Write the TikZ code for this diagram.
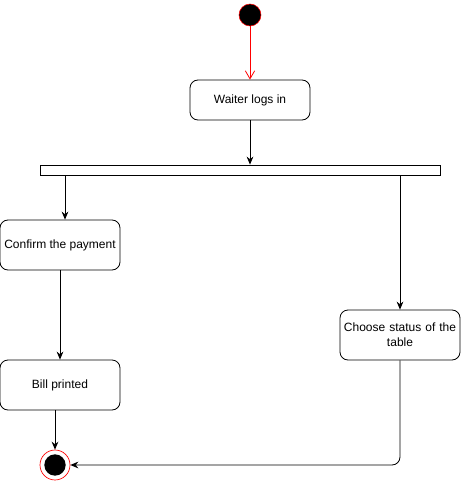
\documentclass[tikz,border=0pt]{standalone}
\usepackage{fontspec}
\setmainfont{Liberation Sans}
\usetikzlibrary{arrows.meta}
\begin{document}
\begin{tikzpicture}[x=0.75pt,y=-0.75pt,
  act/.style={draw,rounded corners=6pt,minimum width=90pt,minimum height=37.5pt,align=center,font=\fontsize{9}{11}\selectfont,inner sep=1pt,line width=0.6pt},
  flow/.style={line width=0.6pt,-{Stealth[length=6pt,width=5pt]}},
  redflow/.style={draw=red,line width=0.6pt,-{Straight Barb[length=6pt,width=7pt]}}]
\useasboundingbox (0,0) rectangle (461,481);
\node[circle,fill=black,draw=red,minimum size=16.5pt,inner sep=0pt] (start) at (250,15) {};
\node[act,minimum height=30pt] (login) at (250,100) {Waiter logs in};
\node[draw,minimum width=300pt,minimum height=7.5pt,inner sep=0pt,line width=0.6pt] (bar) at (240,170) {};
\node[act] (pay) at (60,245) {Confirm the payment};
\node[act] (bill) at (60,385) {Bill printed};
\node[act,text width=85pt] (status) at (400,335) {Choose status of the\\table};
\node[circle,draw=red,minimum size=22.5pt,inner sep=0pt,line width=0.5pt] (end) at (55,465) {};
\node[circle,fill=black,minimum size=16pt,inner sep=0pt] (endin) at (end.center) {};
\draw[redflow] (start) -- (login);
\draw[flow] (login) -- (bar.north -| login);
\coordinate (bl) at (65,175);
\coordinate (br) at (400,175);
\draw[flow] (bl) -- (bl |- pay.north);
\draw[flow] ([xshift=0pt]pay.south) -- (bill.north);
\draw[flow] ([xshift=-3.75pt]bill.south) -- (end);
\draw[flow] (br) -- (status.north);
\draw[flow,rounded corners=6pt] (status.south) |- (end.east);
\end{tikzpicture}
\end{document}
